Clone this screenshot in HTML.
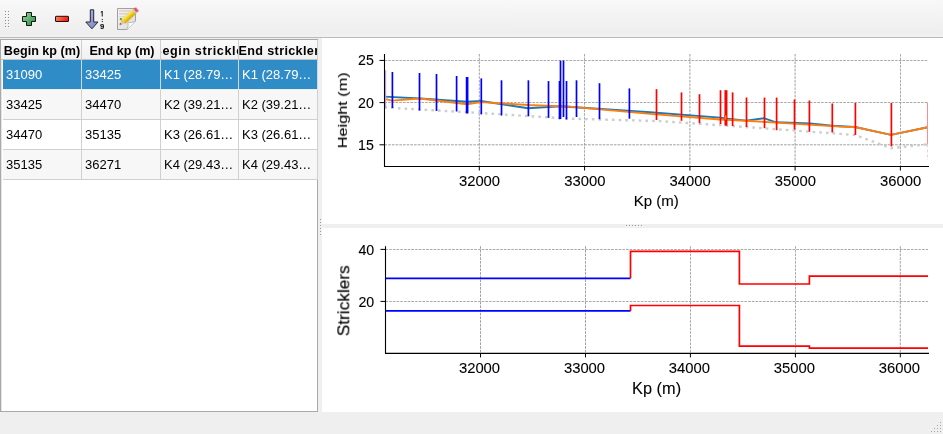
<!DOCTYPE html>
<html><head><meta charset="utf-8"><style>
html,body{margin:0;padding:0;}
body *{will-change:transform;}
body{width:943px;height:434px;position:relative;overflow:hidden;background:#efefef;font-family:"Liberation Sans", sans-serif;}
.abs{position:absolute;}
#tb{position:absolute;left:0;top:0;width:943px;height:37px;background:linear-gradient(#f8f8f8,#eeeeee 90%,#f2f2f2);border-bottom:1px solid #bababa;}
#frame{position:absolute;left:0;top:39px;width:316px;height:371px;border:1px solid #a9a9a9;background:#fff;}
.hc{position:absolute;top:40px;height:19px;border-right:1px solid #cfcfcf;border-bottom:1px solid #c4c4c4;box-sizing:content-box;background:linear-gradient(#fafafa,#f0f0f0);overflow:hidden;white-space:nowrap;font-weight:bold;font-size:12.6px;line-height:19px;text-align:center;color:#000;}
.hc span{position:absolute;left:calc(50% + 1px);top:1.5px;transform:translateX(-50%);}
.hc.c2 span{letter-spacing:0.6px;}
.hc.c3 span{letter-spacing:0.35px;}
.cell{position:absolute;height:29px;border-right:1px solid #d0d0d0;border-bottom:1px solid #d0d0d0;overflow:hidden;white-space:nowrap;font-size:13px;line-height:29px;padding-left:3px;box-sizing:content-box;color:#000;}
.cell.sel{background:#308cc6;color:#fff;border-right-color:#cfd8de;border-bottom-color:#e8eef2;}
.cell.alt{background:#f7f7f7;}
.cell.nrm{background:#fff;}
#canvas1{position:absolute;left:322px;top:38px;width:621px;height:186px;background:#fff;}
#canvas2{position:absolute;left:322px;top:228px;width:621px;height:184px;background:#fff;}
svg text{font-family:"Liberation Sans", sans-serif;fill:#000;stroke:#000;stroke-width:0.1px;}
</style></head><body>
<div id="tb"></div>
<!-- toolbar grip -->
<svg class="abs" style="left:0;top:0" width="943" height="37">
<g fill="#8e8e8e"><rect x="5" y="11" width="1" height="1"/><rect x="8" y="11" width="1" height="1"/><rect x="5" y="14" width="1" height="1"/><rect x="8" y="14" width="1" height="1"/><rect x="5" y="17" width="1" height="1"/><rect x="8" y="17" width="1" height="1"/><rect x="5" y="20" width="1" height="1"/><rect x="8" y="20" width="1" height="1"/><rect x="5" y="23" width="1" height="1"/><rect x="8" y="23" width="1" height="1"/><rect x="5" y="26" width="1" height="1"/><rect x="8" y="26" width="1" height="1"/></g><g fill="#fafafa"><rect x="6" y="12" width="1" height="1"/><rect x="9" y="12" width="1" height="1"/><rect x="6" y="15" width="1" height="1"/><rect x="9" y="15" width="1" height="1"/><rect x="6" y="18" width="1" height="1"/><rect x="9" y="18" width="1" height="1"/><rect x="6" y="21" width="1" height="1"/><rect x="9" y="21" width="1" height="1"/><rect x="6" y="24" width="1" height="1"/><rect x="9" y="24" width="1" height="1"/><rect x="6" y="27" width="1" height="1"/><rect x="9" y="27" width="1" height="1"/></g>
<defs>
<linearGradient id="gp" x1="0" y1="0" x2="1" y2="1"><stop offset="0" stop-color="#98d498"/><stop offset="1" stop-color="#2a8a44"/></linearGradient>
<linearGradient id="gm" x1="0" y1="0" x2="1" y2="0.3"><stop offset="0" stop-color="#ff8a68"/><stop offset="1" stop-color="#ff1a08"/></linearGradient>
<linearGradient id="ga" x1="0" y1="0" x2="1" y2="0"><stop offset="0" stop-color="#8a9ad8"/><stop offset="1" stop-color="#a8b6ea"/></linearGradient>
</defs>
<path d="M26.5,12.5 h5 v4 h4 v5 h-4 v4 h-5 v-4 h-4 v-5 h4 z" fill="url(#gp)" stroke="#151515" stroke-width="1"/>
<rect x="55.5" y="16.3" width="13" height="5.2" rx="0.5" fill="url(#gm)" stroke="#111" stroke-width="1"/>
<linearGradient id="ga2" x1="0" y1="0" x2="1" y2="1"><stop offset="0" stop-color="#b4bcec"/><stop offset="1" stop-color="#7880c0"/></linearGradient>
<path d="M90.3,9.8 h3.4 v12.2 h4.3 l-6.1,6.8 l-6.1,-6.8 h4.5 z" fill="url(#ga2)" stroke="#262636" stroke-width="1"/>
<path d="M100.3,12.2 l1.4,-1.1 h1 v5.4 h-1 v-4 z" fill="#111"/>
<rect x="101.8" y="19" width="1.1" height="1.1" fill="#333"/><rect x="101.8" y="21" width="1.1" height="1.1" fill="#333"/>
<text x="102.2" y="29.1" font-size="7.6" font-weight="bold" text-anchor="middle" style="font-family:"Liberation Sans", sans-serif">9</text>
<linearGradient id="gpg" x1="0" y1="0" x2="1" y2="1"><stop offset="0" stop-color="#f4f4f4"/><stop offset="1" stop-color="#dcdcdc"/></linearGradient>
<path d="M117.5,8.5 H135.5 V21 L127,29.5 H117.5 Z" fill="url(#gpg)" stroke="#a0a0a0" stroke-width="1"/>
<rect x="119" y="10.3" width="14.5" height="1.2" fill="#e6c4bc"/>
<rect x="119" y="13" width="14.5" height="1.6" fill="#d4d4d4"/>
<rect x="119" y="16" width="14.5" height="1" fill="#d8d8d8"/>
<path d="M120,18.5 l2.5,1.5 l4,-2.5" fill="none" stroke="#4a8a2a" stroke-width="2"/>
<path d="M127,29.5 Q129,25.5 127.8,22.2 Q131.5,23.5 135.5,21" fill="#fbfbfb" stroke="#b4b4b4" stroke-width="0.9"/>
<g transform="translate(119.6,24.9) rotate(-42.1)">
<path d="M0,0 L5,-2.5 V2.5 Z" fill="#e8c0a0"/>
<path d="M0,0 L1.8,-0.9 V0.9 Z" fill="#333"/>
<rect x="5" y="-2.6" width="14.5" height="5.2" fill="#f0cc18"/>
<rect x="5" y="-2.6" width="14.5" height="1.6" fill="#f8e870"/>
<rect x="5" y="1.4" width="14.5" height="1.2" fill="#c8a010"/>
<rect x="19.5" y="-2.6" width="1.6" height="5.2" fill="#c0c0c0"/>
<rect x="21.1" y="-2.6" width="2.6" height="5.2" rx="1.2" fill="#e04860"/>
</g>
</svg>
<div id="frame"></div>
<div class="abs" style="left:1px;top:40px;width:1px;height:371px;background:#e4e4e4"></div>
<div class="hc c0" style="left:1px;width:80px"><span>Begin kp (m)</span></div>
<div class="hc c1" style="left:82px;width:78px"><span>End kp (m)</span></div>
<div class="hc c2" style="left:161px;width:77px"><span>Begin strickler</span></div>
<div class="hc c3" style="left:239px;width:78px"><span>End strickler</span></div>
<div class="cell sel" style="left:3px;top:60px;width:75px">31090</div>
<div class="cell sel" style="left:82px;top:60px;width:75px">33425</div>
<div class="cell sel" style="left:161px;top:60px;width:74px">K1 (28.79…</div>
<div class="cell sel" style="left:239px;top:60px;width:75px">K1 (28.79…</div>
<div class="cell alt" style="left:3px;top:90px;width:75px">33425</div>
<div class="cell alt" style="left:82px;top:90px;width:75px">34470</div>
<div class="cell alt" style="left:161px;top:90px;width:74px">K2 (39.21…</div>
<div class="cell alt" style="left:239px;top:90px;width:75px">K2 (39.21…</div>
<div class="cell nrm" style="left:3px;top:120px;width:75px">34470</div>
<div class="cell nrm" style="left:82px;top:120px;width:75px">35135</div>
<div class="cell nrm" style="left:161px;top:120px;width:74px">K3 (26.61…</div>
<div class="cell nrm" style="left:239px;top:120px;width:75px">K3 (26.61…</div>
<div class="cell alt" style="left:3px;top:150px;width:75px">35135</div>
<div class="cell alt" style="left:82px;top:150px;width:75px">36271</div>
<div class="cell alt" style="left:161px;top:150px;width:74px">K4 (29.43…</div>
<div class="cell alt" style="left:239px;top:150px;width:75px">K4 (29.43…</div>
<div class="abs" style="left:318px;top:38px;width:4px;height:374px;background:#efefef"></div>
<div id="canvas1"></div>
<div id="canvas2"></div>
<svg class="abs" style="left:0;top:0" width="943" height="434">
<clipPath id="ct"><rect x="384.5" y="54.0" width="543.5" height="112.5"/></clipPath>
<line x1="479.3" y1="54.0" x2="479.3" y2="166.5" stroke="#888" stroke-width="0.8" stroke-dasharray="2.6,1.1"/>
<line x1="584.6" y1="54.0" x2="584.6" y2="166.5" stroke="#888" stroke-width="0.8" stroke-dasharray="2.6,1.1"/>
<line x1="689.9" y1="54.0" x2="689.9" y2="166.5" stroke="#888" stroke-width="0.8" stroke-dasharray="2.6,1.1"/>
<line x1="795.1" y1="54.0" x2="795.1" y2="166.5" stroke="#888" stroke-width="0.8" stroke-dasharray="2.6,1.1"/>
<line x1="900.4" y1="54.0" x2="900.4" y2="166.5" stroke="#888" stroke-width="0.8" stroke-dasharray="2.6,1.1"/>
<line x1="384.5" y1="144.8" x2="928.0" y2="144.8" stroke="#888" stroke-width="0.8" stroke-dasharray="2.6,1.1"/>
<line x1="384.5" y1="102.6" x2="928.0" y2="102.6" stroke="#888" stroke-width="0.8" stroke-dasharray="2.6,1.1"/>
<line x1="384.5" y1="60.4" x2="928.0" y2="60.4" stroke="#888" stroke-width="0.8" stroke-dasharray="2.6,1.1"/>
<g clip-path="url(#ct)">
<polyline points="384.5,107.4 480,113 570,118.7 660,121.1 750,127.3 840,133.9 855,135 891,148.2 929,144.1" fill="none" stroke="#cdcdcd" stroke-width="2.4" stroke-dasharray="2.6,4.1"/>
<polyline points="384.5,96.6 420,98.5 467,101.8 481,101 528,108.2 560,106.3 650,112.3 720,117.6 728,118.7 746,120.6 764,118.2 776,122.3 810,123.4 832,125.8 855,127 891,134.9 929,127" fill="none" stroke="#1f77b4" stroke-width="1.9"/>
<polyline points="384.5,98.9 392,100.6 420,98.5 467,104.2 481,102.1 528,105 570,106.6 650,113.9 720,119.5 724.6,119.7 725,115.6 725.9,115.6 726.3,119.8 746,120.8 776,122.6 840,126.6 855,127 891,134.9 929,127" fill="none" stroke="#ff7f0e" stroke-width="1.9"/>
<line x1="385.6" y1="70.3" x2="385.6" y2="108.2" stroke="#c8a0f0" stroke-width="1.2"/>
<line x1="392.4" y1="72" x2="392.4" y2="108" stroke="#0000ff" stroke-width="1.7"/>
<line x1="419.5" y1="73" x2="419.5" y2="110.6" stroke="#0000ff" stroke-width="1.7"/>
<line x1="436.5" y1="74" x2="436.5" y2="111" stroke="#0000ff" stroke-width="1.7"/>
<line x1="456.6" y1="76" x2="456.6" y2="111.5" stroke="#0000ff" stroke-width="1.7"/>
<line x1="466.6" y1="77" x2="466.6" y2="113.4" stroke="#0000ff" stroke-width="1.7"/>
<line x1="467.6" y1="77" x2="467.6" y2="113.4" stroke="#0000ff" stroke-width="1.7"/>
<line x1="481.3" y1="78.4" x2="481.3" y2="114.4" stroke="#0000ff" stroke-width="1.7"/>
<line x1="501.5" y1="80.3" x2="501.5" y2="115.5" stroke="#0000ff" stroke-width="1.7"/>
<line x1="528.4" y1="80.3" x2="528.4" y2="116.3" stroke="#0000ff" stroke-width="1.7"/>
<line x1="548.5" y1="81.1" x2="548.5" y2="117.9" stroke="#0000ff" stroke-width="1.7"/>
<line x1="559.5" y1="81" x2="559.5" y2="119.2" stroke="#0000ff" stroke-width="1.7"/>
<line x1="560.5" y1="60.6" x2="560.5" y2="119" stroke="#0000ff" stroke-width="1.7"/>
<line x1="563.5" y1="60.6" x2="563.5" y2="117" stroke="#0000ff" stroke-width="1.7"/>
<line x1="566.5" y1="81" x2="566.5" y2="119.5" stroke="#0000ff" stroke-width="1.7"/>
<line x1="576.5" y1="80.3" x2="576.5" y2="117" stroke="#0000ff" stroke-width="1.7"/>
<line x1="599.5" y1="83.2" x2="599.5" y2="119.2" stroke="#0000ff" stroke-width="1.7"/>
<line x1="629.4" y1="88.4" x2="629.4" y2="118.7" stroke="#0000ff" stroke-width="1.7"/>
<line x1="656.5" y1="89.2" x2="656.5" y2="120" stroke="#ff0000" stroke-width="1.7"/>
<line x1="681.5" y1="92.4" x2="681.5" y2="120.8" stroke="#ff0000" stroke-width="1.7"/>
<line x1="699.5" y1="94.2" x2="699.5" y2="123.2" stroke="#ff0000" stroke-width="1.7"/>
<line x1="720.5" y1="90.2" x2="720.5" y2="124" stroke="#ff0000" stroke-width="1.7"/>
<line x1="725.3" y1="90.2" x2="725.3" y2="125.6" stroke="#ff0000" stroke-width="1.7"/>
<line x1="726.6" y1="90.2" x2="726.6" y2="125.6" stroke="#ff0000" stroke-width="1.7"/>
<line x1="732.6" y1="92.4" x2="732.6" y2="126" stroke="#ff0000" stroke-width="1.7"/>
<line x1="746.5" y1="97.5" x2="746.5" y2="127" stroke="#ff0000" stroke-width="1.7"/>
<line x1="764.5" y1="97.6" x2="764.5" y2="128.2" stroke="#ff0000" stroke-width="1.7"/>
<line x1="776.6" y1="97.6" x2="776.6" y2="130.2" stroke="#ff0000" stroke-width="1.7"/>
<line x1="794.5" y1="99.5" x2="794.5" y2="129.5" stroke="#ff0000" stroke-width="1.7"/>
<line x1="809.4" y1="100.5" x2="809.4" y2="131.8" stroke="#ff0000" stroke-width="1.7"/>
<line x1="832.3" y1="103.5" x2="832.3" y2="132.5" stroke="#ff0000" stroke-width="1.7"/>
<line x1="855.4" y1="103" x2="855.4" y2="135" stroke="#ff0000" stroke-width="1.7"/>
<line x1="891.4" y1="103" x2="891.4" y2="146.4" stroke="#ff0000" stroke-width="1.7"/>
<line x1="927.5" y1="102.5" x2="927.5" y2="144.5" stroke="#ff8c8c" stroke-width="1"/>
<line x1="927.5" y1="144.5" x2="927.5" y2="160" stroke="#f2d4d4" stroke-width="1" stroke-dasharray="3,2"/>
<rect x="724.7" y="115.4" width="1.7" height="4.2" fill="#ff7f0e"/>
</g>
<line x1="384.5" y1="54.0" x2="384.5" y2="167.0" stroke="#000" stroke-width="1.1"/>
<line x1="384.0" y1="166.5" x2="929" y2="166.5" stroke="#000" stroke-width="1.1"/>
<line x1="479.3" y1="166.5" x2="479.3" y2="170.5" stroke="#000" stroke-width="1"/>
<text x="479.5" y="186" font-size="14.8" text-anchor="middle">32000</text>
<line x1="584.6" y1="166.5" x2="584.6" y2="170.5" stroke="#000" stroke-width="1"/>
<text x="584.8" y="186" font-size="14.8" text-anchor="middle">33000</text>
<line x1="689.9" y1="166.5" x2="689.9" y2="170.5" stroke="#000" stroke-width="1"/>
<text x="690.1" y="186" font-size="14.8" text-anchor="middle">34000</text>
<line x1="795.1" y1="166.5" x2="795.1" y2="170.5" stroke="#000" stroke-width="1"/>
<text x="795.3" y="186" font-size="14.8" text-anchor="middle">35000</text>
<line x1="900.4" y1="166.5" x2="900.4" y2="170.5" stroke="#000" stroke-width="1"/>
<text x="900.6" y="186" font-size="14.8" text-anchor="middle">36000</text>
<line x1="379.5" y1="144.8" x2="384.5" y2="144.8" stroke="#000" stroke-width="1"/>
<text x="373.8" y="149.8" font-size="14.2" text-anchor="end">15</text>
<line x1="379.5" y1="102.6" x2="384.5" y2="102.6" stroke="#000" stroke-width="1"/>
<text x="373.8" y="107.6" font-size="14.2" text-anchor="end">20</text>
<line x1="379.5" y1="60.4" x2="384.5" y2="60.4" stroke="#000" stroke-width="1"/>
<text x="373.8" y="65.4" font-size="14.2" text-anchor="end">25</text>
<text x="656.2" y="205.8" font-size="15" text-anchor="middle">Kp (m)</text>
<text transform="translate(346.9,110.3) rotate(-90)" font-size="13.6" text-anchor="middle" textLength="76" lengthAdjust="spacingAndGlyphs">Height (m)</text>
<clipPath id="cb"><rect x="385.5" y="246.2" width="542.5" height="107.19999999999999"/></clipPath>
<line x1="480.5" y1="246.2" x2="480.5" y2="353.4" stroke="#888" stroke-width="0.8" stroke-dasharray="2.6,1.1"/>
<line x1="585.5" y1="246.2" x2="585.5" y2="353.4" stroke="#888" stroke-width="0.8" stroke-dasharray="2.6,1.1"/>
<line x1="690.4" y1="246.2" x2="690.4" y2="353.4" stroke="#888" stroke-width="0.8" stroke-dasharray="2.6,1.1"/>
<line x1="795.4" y1="246.2" x2="795.4" y2="353.4" stroke="#888" stroke-width="0.8" stroke-dasharray="2.6,1.1"/>
<line x1="900.3" y1="246.2" x2="900.3" y2="353.4" stroke="#888" stroke-width="0.8" stroke-dasharray="2.6,1.1"/>
<line x1="385.5" y1="301.4" x2="928.0" y2="301.4" stroke="#888" stroke-width="0.8" stroke-dasharray="2.6,1.1"/>
<line x1="385.5" y1="249.4" x2="928.0" y2="249.4" stroke="#888" stroke-width="0.8" stroke-dasharray="2.6,1.1"/>
<g clip-path="url(#cb)">
<polyline points="385.5,278.3 630.5,278.3" fill="none" stroke="#0000ff" stroke-width="1.7"/>
<polyline points="385.5,310.9 630.5,310.9" fill="none" stroke="#0000ff" stroke-width="1.7"/>
<polyline points="630.5,278.3 630.5,251.4 739.4,251.4 739.4,284.0 809.4,284.0 809.4,276.2 930,276.2" fill="none" stroke="#ff0000" stroke-width="1.7"/>
<polyline points="630.5,310.9 630.5,305.5 739.4,305.5 739.4,346.2 809.4,346.2 809.4,348.2 930,348.2" fill="none" stroke="#ff0000" stroke-width="1.7"/>
</g>
<line x1="385.5" y1="246.2" x2="385.5" y2="353.9" stroke="#000" stroke-width="1.1"/>
<line x1="385.0" y1="353.4" x2="929" y2="353.4" stroke="#000" stroke-width="1.1"/>
<line x1="480.5" y1="353.4" x2="480.5" y2="357.4" stroke="#000" stroke-width="1"/>
<text x="479.5" y="372.8" font-size="14.8" text-anchor="middle">32000</text>
<line x1="585.5" y1="353.4" x2="585.5" y2="357.4" stroke="#000" stroke-width="1"/>
<text x="584.5" y="372.8" font-size="14.8" text-anchor="middle">33000</text>
<line x1="690.4" y1="353.4" x2="690.4" y2="357.4" stroke="#000" stroke-width="1"/>
<text x="689.4" y="372.8" font-size="14.8" text-anchor="middle">34000</text>
<line x1="795.4" y1="353.4" x2="795.4" y2="357.4" stroke="#000" stroke-width="1"/>
<text x="794.4" y="372.8" font-size="14.8" text-anchor="middle">35000</text>
<line x1="900.3" y1="353.4" x2="900.3" y2="357.4" stroke="#000" stroke-width="1"/>
<text x="899.3" y="372.8" font-size="14.8" text-anchor="middle">36000</text>
<line x1="380.5" y1="301.4" x2="385.5" y2="301.4" stroke="#000" stroke-width="1"/>
<text x="374.2" y="307.4" font-size="14.2" text-anchor="end">20</text>
<line x1="380.5" y1="249.4" x2="385.5" y2="249.4" stroke="#000" stroke-width="1"/>
<text x="374.2" y="255.4" font-size="14.2" text-anchor="end">40</text>
<text x="656.6" y="393.7" font-size="16.4" text-anchor="middle" textLength="49" lengthAdjust="spacingAndGlyphs">Kp (m)</text>
<text transform="translate(349.3,300.7) rotate(-90)" font-size="15.8" text-anchor="middle" textLength="71" lengthAdjust="spacingAndGlyphs">Stricklers</text>
<g fill="#9a9a9a"><rect x="320" y="219" width="1" height="1"/><rect x="320" y="222" width="1" height="1"/><rect x="320" y="225" width="1" height="1"/><rect x="320" y="228" width="1" height="1"/><rect x="320" y="231" width="1" height="1"/><rect x="320" y="234" width="1" height="1"/><rect x="626" y="225" width="1" height="1"/><rect x="629" y="225" width="1" height="1"/><rect x="632" y="225" width="1" height="1"/><rect x="635" y="225" width="1" height="1"/><rect x="638" y="225" width="1" height="1"/><rect x="641" y="225" width="1" height="1"/></g><g fill="#fafafa"><rect x="321" y="220" width="1" height="1"/><rect x="321" y="223" width="1" height="1"/><rect x="321" y="226" width="1" height="1"/><rect x="321" y="229" width="1" height="1"/><rect x="321" y="232" width="1" height="1"/><rect x="321" y="235" width="1" height="1"/><rect x="627" y="226" width="1" height="1"/><rect x="630" y="226" width="1" height="1"/><rect x="633" y="226" width="1" height="1"/><rect x="636" y="226" width="1" height="1"/><rect x="639" y="226" width="1" height="1"/><rect x="642" y="226" width="1" height="1"/></g>
<g fill="#a8a8a8">
<rect x="931" y="431" width="1" height="1"/><rect x="934" y="431" width="1" height="1"/><rect x="937" y="431" width="1" height="1"/><rect x="940" y="431" width="1" height="1"/>
<rect x="934" y="428" width="1" height="1"/><rect x="937" y="428" width="1" height="1"/><rect x="940" y="428" width="1" height="1"/>
<rect x="937" y="425" width="1" height="1"/><rect x="940" y="425" width="1" height="1"/>
<rect x="940" y="422" width="1" height="1"/>
</g>
</svg>
</body></html>
